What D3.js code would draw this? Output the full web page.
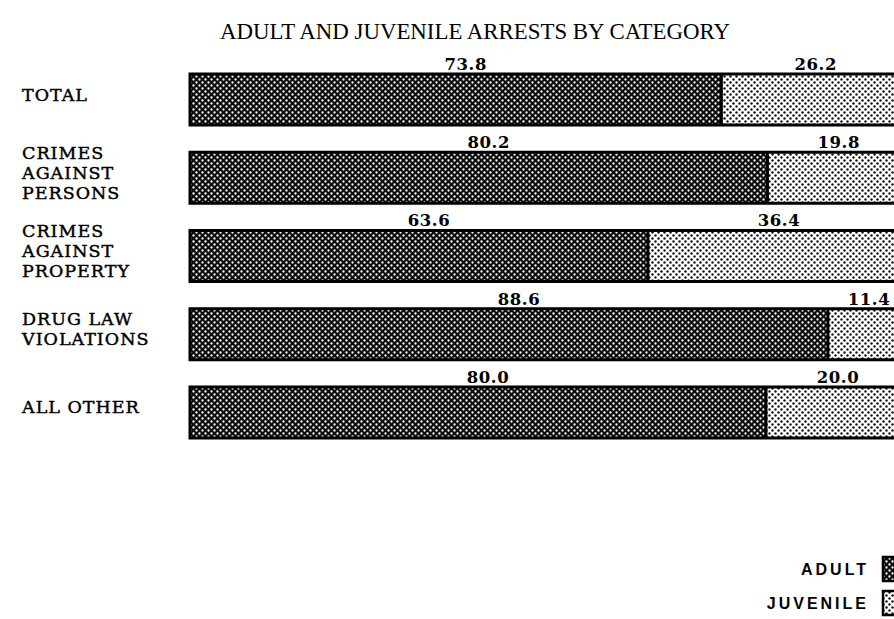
<!DOCTYPE html>
<html>
<head>
<meta charset="utf-8">
<script src="https://cdn.jsdelivr.net/npm/d3@7"></script>
<style>
  body { margin: 0; background: #fff; }
  svg { display: block; }
</style>
</head>
<body>
<svg id="chart" width="894" height="619"></svg>
<script>
// data (percent of arrests)
const categories = ["TOTAL", "CRIMES AGAINST PERSONS", "CRIMES AGAINST PROPERTY", "DRUG LAW VIOLATIONS", "ALL OTHER"];
const categoryLines = [["TOTAL"], ["CRIMES", "AGAINST", "PERSONS"], ["CRIMES", "AGAINST", "PROPERTY"], ["DRUG LAW", "VIOLATIONS"], ["ALL OTHER"]];
const adult    = [73.8, 80.2, 63.6, 88.6, 80.0];
const juvenile = [26.2, 19.8, 36.4, 11.4, 20.0];
const seriesNames = ["ADULT", "JUVENILE"];
const title = "ADULT AND JUVENILE ARRESTS BY CATEGORY";

const svg = d3.select("#chart");

// dot screens like the printed halftones
const defs = svg.append("defs");
const pAdult = defs.append("pattern")
    .attr("id", "pat-adult")
    .attr("patternUnits", "userSpaceOnUse")
    .attr("width", 6).attr("height", 6);
pAdult.append("rect").attr("width", 6).attr("height", 6).attr("fill", "#0d0d0d");
pAdult.selectAll("circle").data([[1.5, 1.5], [4.5, 4.5]]).join("circle")
    .attr("cx", d => d[0]).attr("cy", d => d[1]).attr("r", 1.15).attr("fill", "#fff");

const pJuv = defs.append("pattern")
    .attr("id", "pat-juv")
    .attr("patternUnits", "userSpaceOnUse")
    .attr("width", 6).attr("height", 6);
pJuv.append("rect").attr("width", 6).attr("height", 6).attr("fill", "#fff");
pJuv.selectAll("circle").data([[1.5, 1.5], [4.5, 4.5]]).join("circle")
    .attr("cx", d => d[0]).attr("cy", d => d[1]).attr("r", 1.2).attr("fill", "#111");

const fills = ["url(#pat-adult)", "url(#pat-juv)"];

// the bars run past the right edge of the page in the scan
const x = d3.scaleLinear().domain([0, 100]).range([190, 910]);
const y = d3.scaleBand()
    .domain(categories)
    .range([74, 438])
    .paddingInner(0.348)
    .paddingOuter(0);

const rows = categories.map((c, i) => ({ cat: c, lines: categoryLines[i], vals: [adult[i], juvenile[i]] }));

svg.append("text")
    .attr("x", 475).attr("y", 39)
    .attr("text-anchor", "middle")
    .attr("font-family", "Liberation Serif, serif")
    .attr("font-size", 23)
    .attr("textLength", 510)
    .attr("lengthAdjust", "spacingAndGlyphs")
    .text(title);

const row = svg.append("g").selectAll("g").data(rows).join("g");

// segments
row.each(function(d) {
  const g = d3.select(this);
  let start = 0;
  d.vals.forEach((v, k) => {
    g.append("rect")
        .attr("x", x(start))
        .attr("y", y(d.cat))
        .attr("width", x(start + v) - x(start))
        .attr("height", y.bandwidth())
        .attr("fill", fills[k]);
    g.append("text")
        .attr("x", (x(start) + x(start + v)) / 2 + (k === 0 ? 10 : 0))
        .attr("y", y(d.cat) - 4)
        .attr("text-anchor", "middle")
        .attr("font-family", "DejaVu Serif, serif")
        .attr("font-weight", "bold")
        .attr("font-size", 16.5)
        .attr("letter-spacing", 0.6)
        .text(v.toFixed(1));
    start += v;
  });
});

// outline and divider
row.append("rect")
    .attr("x", d => x(0))
    .attr("y", d => y(d.cat))
    .attr("width", d => x(100) - x(0))
    .attr("height", y.bandwidth())
    .attr("fill", "none")
    .attr("stroke", "#000")
    .attr("stroke-width", 3);

row.append("line")
    .attr("x1", d => x(d.vals[0])).attr("x2", d => x(d.vals[0]))
    .attr("y1", d => y(d.cat)).attr("y2", d => y(d.cat) + y.bandwidth())
    .attr("stroke", "#000")
    .attr("stroke-width", 3);

// category labels
const lineH = 20;
row.append("text")
    .attr("font-family", "DejaVu Serif, serif")
    .attr("font-size", 17.5)
    .attr("letter-spacing", 1)
    .attr("fill", "#000")
    .attr("stroke", "#000")
    .attr("stroke-width", 0.45)
    .each(function(d) {
      const t = d3.select(this);
      const cy = y(d.cat) + y.bandwidth() / 2 - 5;
      const top = cy - (d.lines.length - 1) * lineH / 2 + 6;
      d.lines.forEach((s, j) => {
        t.append("tspan").attr("x", 22).attr("y", top + j * lineH).text(s);
      });
    });

// legend, cut off at the right edge like the scan
const legend = svg.append("g").selectAll("g").data(seriesNames).join("g")
    .attr("transform", (d, i) => `translate(0,${557 + i * 34})`);
legend.append("rect")
    .attr("x", 883).attr("y", 0)
    .attr("width", 20).attr("height", 24)
    .attr("fill", (d, i) => fills[i])
    .attr("stroke", "#000").attr("stroke-width", 2.5);
legend.append("text")
    .attr("x", 869).attr("y", 18)
    .attr("text-anchor", "end")
    .attr("font-family", "Liberation Sans, Arial, sans-serif")
    .attr("font-weight", "bold")
    .attr("font-size", 16)
    .attr("letter-spacing", 3)
    .text(d => d);
</script>
</body>
</html>
